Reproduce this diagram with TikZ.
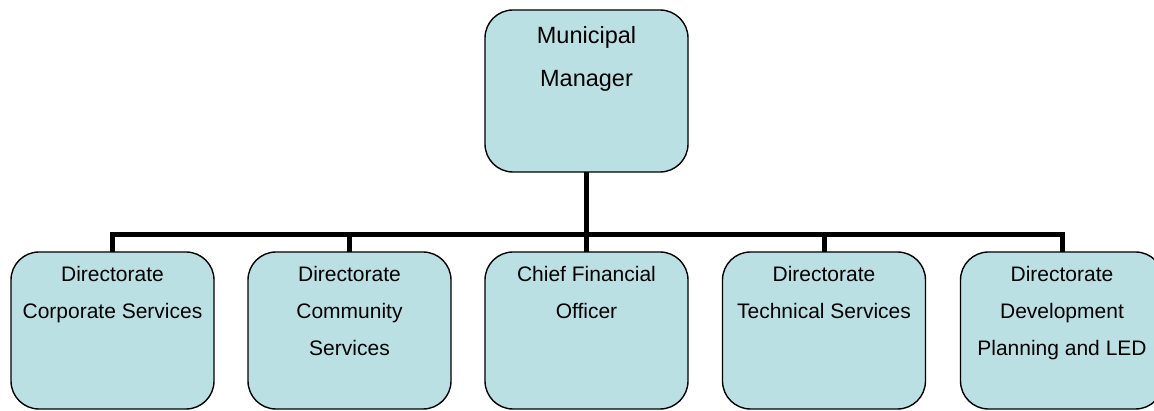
\documentclass[tikz,border=0pt]{standalone}
\usepackage{fontspec}
\setmainfont{Liberation Sans}
\definecolor{boxfill}{HTML}{BBE0E3}
\begin{document}
\begin{tikzpicture}[x=1pt,y=-1pt,
  orgbox/.style={draw=black, line width=1.4pt, fill=boxfill, rounded corners=28pt,
    minimum width=203pt, inner sep=0pt, outer sep=0pt},
  topbox/.style={orgbox, minimum height=162pt},
  subbox/.style={orgbox, minimum height=157pt},
  toptext/.style={anchor=north, align=center, inner sep=0pt, font=\fontsize{23.5}{43}\selectfont},
  subtext/.style={anchor=north, align=center, inner sep=0pt, font=\fontsize{21}{37}\selectfont},
  conn/.style={draw=black, line width=5pt, line join=miter}]
\clip (0,0) rectangle (1154,411);
\fill[white] (0,0) rectangle (1154,411);
% boxes
\node[topbox] (mm) at (586.5,91) {};
\node[subbox] (b1) at (112.5,330.5) {};
\node[subbox] (b2) at (349.5,330.5) {};
\node[subbox] (b3) at (586.5,330.5) {};
\node[subbox] (b4) at (824,330.5) {};
\node[subbox] (b5) at (1062,330.5) {};
% connectors
\coordinate (bus) at (0,235);
\draw[conn] (mm.south) -- (b3.north);
\draw[conn] (b1.north) -- (b1.north |- bus) -- (b5.north |- bus) -- (b5.north);
\draw[conn] (b2.north |- bus) -- (b2.north);
\draw[conn] (b4.north |- bus) -- (b4.north);
% texts
\node[toptext] (tmm) at (586.5,26) {Municipal\\Manager};
\node[subtext] (t1) at (112.5,266) {Directorate\\Corporate Services};
\node[subtext] (t2) at (349.5,266) {Directorate\\Community\\Services};
\node[subtext] (t3) at (586.5,266) {Chief Financial\\Officer};
\node[subtext] (t4) at (824,266) {Directorate\\Technical Services};
\node[subtext] (t5) at (1062,266) {Directorate\\Development\\Planning and LED};
\end{tikzpicture}
\end{document}
